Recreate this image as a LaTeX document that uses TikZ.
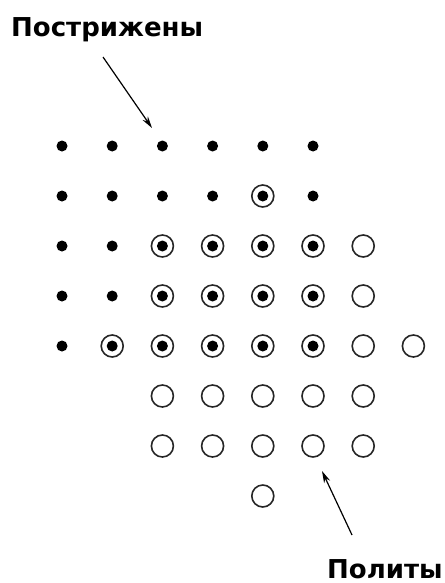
\documentclass[tikz,border=0pt]{standalone}
\usepackage{fontspec}
\setmainfont{DejaVu Sans}
\usetikzlibrary{arrows.meta}
\begin{document}
\begin{tikzpicture}[x=1pt,y=-1pt,
  fdot/.style={circle,fill=black,inner sep=0pt,minimum size=11pt},
  ringed/.style={circle,draw=black!85,line width=1.6pt,inner sep=0pt,minimum size=22pt,
    path picture={\fill[black] (path picture bounding box.center) circle (5.5pt);}},
  opendot/.style={circle,draw=black!85,line width=1.6pt,inner sep=0pt,minimum size=22pt},
  lbl/.style={inner sep=0pt,anchor=base west,font=\bfseries\fontsize{26}{30}\selectfont},
  pointer/.style={line width=1.2pt,-{Stealth[length=12pt,width=6.5pt]}}]
\useasboundingbox (0,0) rectangle (444,583);
% columns 62 + 50.2*(i-1), rows 146 + 50*(j-1)
\foreach \r/\c/\t in {
 1/1/fdot,1/2/fdot,1/3/fdot,1/4/fdot,1/5/fdot,1/6/fdot,
 2/1/fdot,2/2/fdot,2/3/fdot,2/4/fdot,2/5/ringed,2/6/fdot,
 3/1/fdot,3/2/fdot,3/3/ringed,3/4/ringed,3/5/ringed,3/6/ringed,3/7/opendot,
 4/1/fdot,4/2/fdot,4/3/ringed,4/4/ringed,4/5/ringed,4/6/ringed,4/7/opendot,
 5/1/fdot,5/2/ringed,5/3/ringed,5/4/ringed,5/5/ringed,5/6/ringed,5/7/opendot,5/8/opendot,
 6/3/opendot,6/4/opendot,6/5/opendot,6/6/opendot,6/7/opendot,
 7/3/opendot,7/4/opendot,7/5/opendot,7/6/opendot,7/7/opendot,
 8/5/opendot}
 \node[\t] (p\r-\c) at ({62+50.2*(\c-1)},{146+50*(\r-1)}) {};
\node[lbl] (top) at (11,37) {Пострижены};
\node[lbl] (bot) at (327,578) {Политы};
\coordinate (a1s) at (103,57);
\coordinate (a1e) at (152,128);
\coordinate (a2s) at (352,535);
\coordinate (a2e) at (322,471);
\draw[pointer] (a1s) -- (a1e);
\draw[pointer] (a2s) -- (a2e);
\end{tikzpicture}
\end{document}
